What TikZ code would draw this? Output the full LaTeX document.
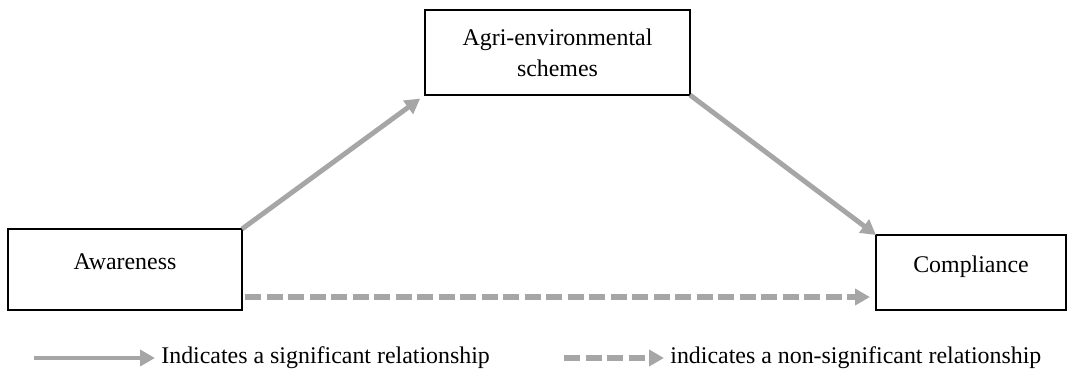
\documentclass[tikz,border=0pt]{standalone}
\usepackage{fontspec}
\setmainfont{Liberation Serif}
\usepackage{tikz}
\usetikzlibrary{positioning,arrows.meta}
\definecolor{linkgray}{RGB}{166,166,166}

\begin{document}
\begin{tikzpicture}[
                font=\fontsize{13.6}{17.6}\selectfont,
                box/.style={draw, line width=1.4pt, outer sep=0pt, align=center},
                onebox/.style={box, text height=0.35cm, text depth=0.35cm, inner ysep=0pt},
                link/.style={draw=linkgray, line width=2.8pt, -{Triangle[length=0.3cm, width=0.32cm]}},
                nslink/.style={link, line width=3.2pt, dash pattern=on 0.32cm off 0.11cm},
                legtext/.style={inner xsep=0.12cm, inner ysep=0pt, anchor=west}
            ]
                \useasboundingbox (0,0) rectangle (21.34,7.52);

                \node [onebox, minimum width=4.68cm, minimum height=1.62cm] (aware) at (2.50,2.13) {Awareness};
                \node [box, minimum width=5.30cm, minimum height=1.70cm, above right=2.68cm and 3.66cm of aware] (aes) {Agri-environmental\\schemes};
                \node [onebox, minimum width=3.80cm, minimum height=1.50cm, right=12.68cm of aware.south east, anchor=south west] (comp) {Compliance};

                \draw [link, shorten >=0.12cm] (aware.north east) -- (aes.south west);
                \draw [link] (aes.south east) -- (comp.north west);
                \draw [nslink] ([shift={(0.06,0.26)}]aware.south east) -- ([shift={(-0.12,0.26)}]comp.south west);

                \node [legtext] (sig) at (3.10,0.36) {Indicates a significant relationship};
                \coordinate [left=2.42cm of sig] (sigtail);
                \draw [link] (sigtail) -- (sig);

                \node [legtext] (nonsig) at (13.28,0.36) {indicates a non-significant relationship};
                \coordinate [left=2.0cm of nonsig] (nonsigtail);
                \draw [nslink] (nonsigtail) -- (nonsig);
            \end{tikzpicture}
\end{document}
